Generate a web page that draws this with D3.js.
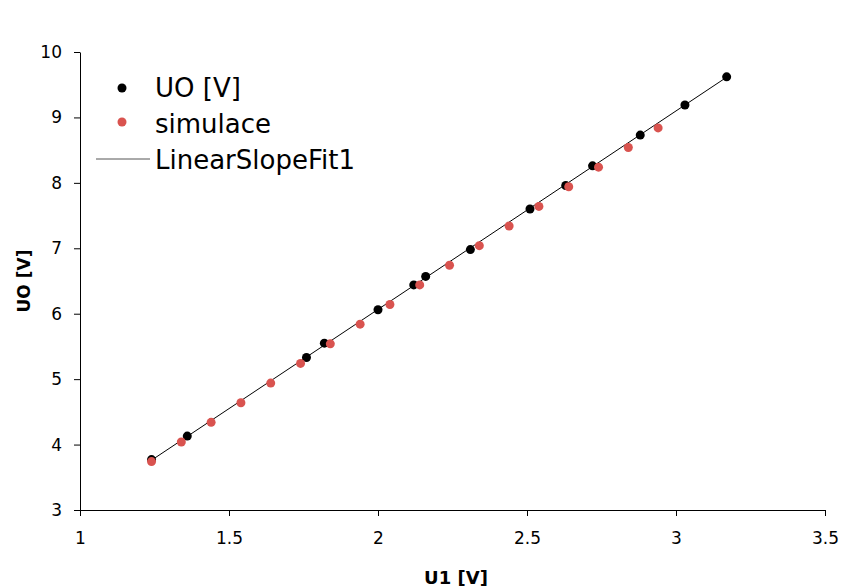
<!DOCTYPE html>
<html><head><meta charset="utf-8">
<script src="https://cdn.jsdelivr.net/npm/d3@7"></script>
<style>body{margin:0;background:#fff}text{font-family:"DejaVu Sans",sans-serif}</style>
</head><body><svg id="c" width="851" height="587"></svg>
<script>
var uoX = [1.24,1.36,1.76,1.82,2.0,2.12,2.16,2.31,2.51,2.63,2.72,2.88,3.03,3.17];
var uoY = [3.77,4.13,5.33,5.55,6.06,6.44,6.57,6.98,7.60,7.96,8.26,8.73,9.19,9.62];
var simX = [1.24,1.34,1.44,1.54,1.64,1.74,1.84,1.94,2.04,2.14,2.24,2.34,2.44,2.54,2.64,2.74,2.84,2.94];
var simY = [3.74,4.04,4.34,4.64,4.94,5.24,5.54,5.84,6.14,6.44,6.74,7.04,7.34,7.64,7.94,8.24,8.54,8.84];
var fitX = [1.24,3.17];
var slope = 3.033;
var xTicks = [1,1.5,2,2.5,3,3.5];
var yTicks = [3,4,5,6,7,8,9,10];

var svg = d3.select("#c");
var x = d3.scaleLinear().domain([1,3.5]).range([80,825]);
var y = d3.scaleLinear().domain([3,10]).range([510,52]);

svg.append("g").attr("transform","translate(0,510)")
  .call(d3.axisBottom(x).tickValues(xTicks).tickFormat(d3.format("")).tickSize(6).tickPadding(16).tickSizeOuter(0))
  .call(g=>g.selectAll("text").attr("font-size",17).attr("fill","#000"));
svg.append("g").attr("transform","translate(80,0)")
  .call(d3.axisLeft(y).tickValues(yTicks).tickFormat(d3.format("d")).tickSize(6).tickPadding(12).tickSizeOuter(0))
  .call(g=>g.selectAll("text").attr("font-size",17).attr("fill","#000"));

svg.append("text").attr("x",456).attr("y",584).attr("text-anchor","middle")
  .attr("font-size",18).attr("font-weight","bold").text("U1 [V]");
svg.append("text").attr("transform","translate(30,281) rotate(-90)").attr("text-anchor","middle")
  .attr("font-size",17).attr("font-weight","bold").text("UO [V]");

svg.append("line").attr("x1",x(fitX[0])).attr("y1",y(fitX[0]*slope))
  .attr("x2",x(fitX[1])).attr("y2",y(fitX[1]*slope)).attr("stroke","#000").attr("stroke-width",1);

svg.selectAll(".u").data(uoX).join("circle").attr("cx",d=>x(d)).attr("cy",(d,i)=>y(uoY[i]))
  .attr("r",4.5).attr("fill","#000");
svg.selectAll(".s").data(simX).join("circle").attr("cx",d=>x(d)).attr("cy",(d,i)=>y(simY[i]))
  .attr("r",4.5).attr("fill","#d9534f");

var lg = svg.append("g");
lg.append("circle").attr("cx",122).attr("cy",88).attr("r",4.5).attr("fill","#000");
lg.append("circle").attr("cx",122).attr("cy",122).attr("r",4.5).attr("fill","#d9534f");
lg.append("line").attr("x1",96).attr("x2",150).attr("y1",159).attr("y2",159).attr("stroke","#555");
[["UO [V]",88],["simulace",124],["LinearSlopeFit1",160]].forEach(function(t){
  lg.append("text").attr("x",155).attr("y",t[1]+9).attr("font-size",26).text(t[0]);
});
</script></body></html>
